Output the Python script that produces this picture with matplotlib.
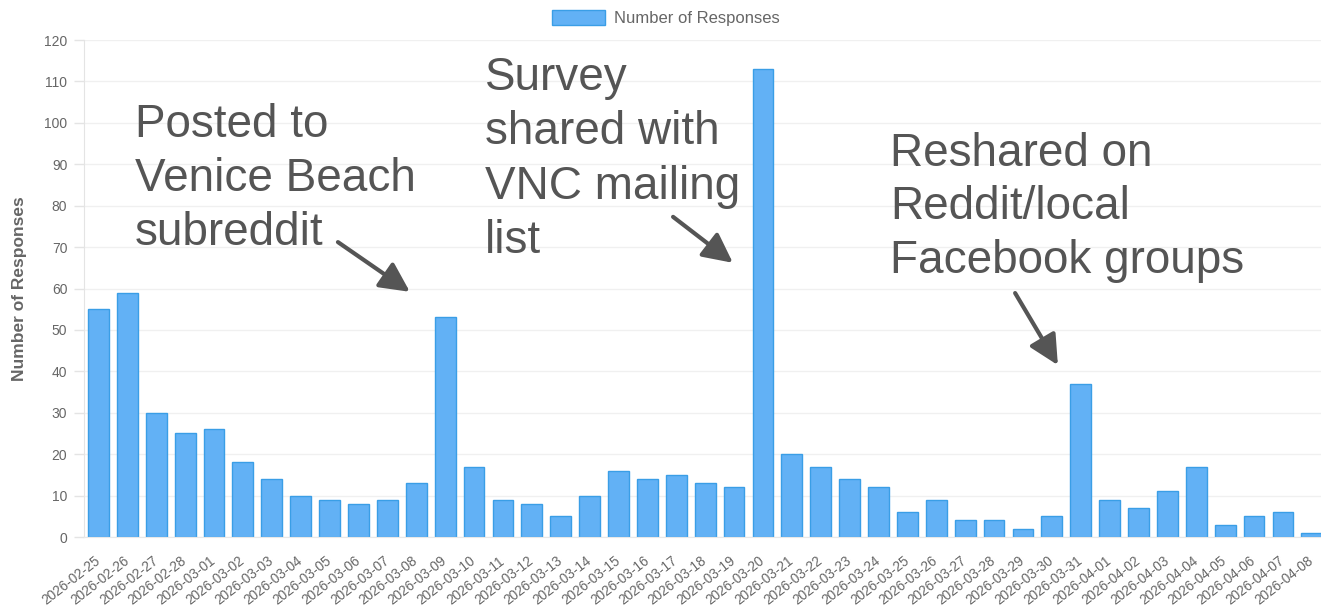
import matplotlib
matplotlib.use("Agg")
import matplotlib.pyplot as plt
import matplotlib.transforms as mtransforms

plt.rcParams['font.family'] = ['Liberation Sans', 'DejaVu Sans']

dates = ["2026-02-25", "2026-02-26", "2026-02-27", "2026-02-28", "2026-03-01",
         "2026-03-02", "2026-03-03", "2026-03-04", "2026-03-05", "2026-03-06",
         "2026-03-07", "2026-03-08", "2026-03-09", "2026-03-10", "2026-03-11",
         "2026-03-12", "2026-03-13", "2026-03-14", "2026-03-15", "2026-03-16",
         "2026-03-17", "2026-03-18", "2026-03-19", "2026-03-20", "2026-03-21",
         "2026-03-22", "2026-03-23", "2026-03-24", "2026-03-25", "2026-03-26",
         "2026-03-27", "2026-03-28", "2026-03-29", "2026-03-30", "2026-03-31",
         "2026-04-01", "2026-04-02", "2026-04-03", "2026-04-04", "2026-04-05",
         "2026-04-06", "2026-04-07", "2026-04-08"]
responses = [55, 59, 30, 25, 26, 18, 14, 10, 9, 8, 9, 13, 53, 17, 9, 8, 5, 10,
             16, 14, 15, 13, 12, 113, 20, 17, 14, 12, 6, 9, 4, 4, 2, 5, 37, 9,
             7, 11, 17, 3, 5, 6, 1]

notes = ["Posted to\nVenice Beach\nsubreddit",
         "Survey\nshared with\nVNC mailing\nlist",
         "Reshared on\nReddit/local\nFacebook groups"]

GRAY = "#666666"
NOTE = "#555555"

fig = plt.figure(figsize=(13.21, 6.11), dpi=100)
ax = fig.add_axes([0.06359, 0.12111, 0.9404, 0.81342])

x = list(range(len(dates)))
ax.bar(x, responses, width=0.72, color="#62b1f5", edgecolor="#3a9ee6",
       linewidth=1, label="Number of Responses", zorder=2)

ax.set_xlim(-0.5, len(dates) - 0.5)
ax.set_ylim(0, 120)
ax.set_yticks(range(0, 121, 10))
ax.set_xticks(x)
ax.set_xticklabels(dates, rotation=38, ha="right", va="center",
                   rotation_mode="anchor", fontsize=9.8, color=GRAY)
off = mtransforms.ScaledTranslation(4 / 100, 0, fig.dpi_scale_trans)
for lab in ax.get_xticklabels():
    lab.set_transform(lab.get_transform() + off)
ax.tick_params(axis="x", length=0, pad=16)
ax.tick_params(axis="y", length=7, width=1, color="#e4e4e4", pad=5,
               labelsize=10, labelcolor=GRAY)

ax.grid(axis="y", color="#f0f0f0", linewidth=1, zorder=0)
for s in ["top", "right"]:
    ax.spines[s].set_visible(False)
ax.spines["left"].set_color("#e4e4e4")
ax.spines["bottom"].set_color("#e8e8e8")

ax.set_ylabel("Number of Responses", fontsize=12.5, fontweight="bold",
              color=GRAY, labelpad=12)

fig.legend(loc="center", bbox_to_anchor=(0.504, 0.9705), frameon=False,
           fontsize=12, labelcolor=GRAY, handlelength=3.2, handleheight=1.05,
           handletextpad=0.5)

# annotation text blocks (anchored at the baseline of the last line)
ax.text(1.265, 70.5, notes[0], fontsize=33, color=NOTE, va="baseline",
        ha="left", linespacing=1.3)
ax.text(13.38, 68.6, notes[1], fontsize=33, color=NOTE, va="baseline",
        ha="left", linespacing=1.3)
ax.text(27.4, 63.8, notes[2], fontsize=33, color=NOTE, va="baseline",
        ha="left", linespacing=1.28)

arrow = dict(arrowstyle="-|>,head_length=0.4,head_width=0.2",
             mutation_scale=45, lw=3, color=NOTE, shrinkA=0, shrinkB=0)
ax.annotate("", xy=(10.78, 59.2), xytext=(8.29, 71.2), arrowprops=arrow)
ax.annotate("", xy=(21.96, 66.2), xytext=(19.89, 77.3), arrowprops=arrow)
ax.annotate("", xy=(33.21, 41.5), xytext=(31.73, 58.9), arrowprops=arrow)

fig.savefig("out.png", dpi=100)
